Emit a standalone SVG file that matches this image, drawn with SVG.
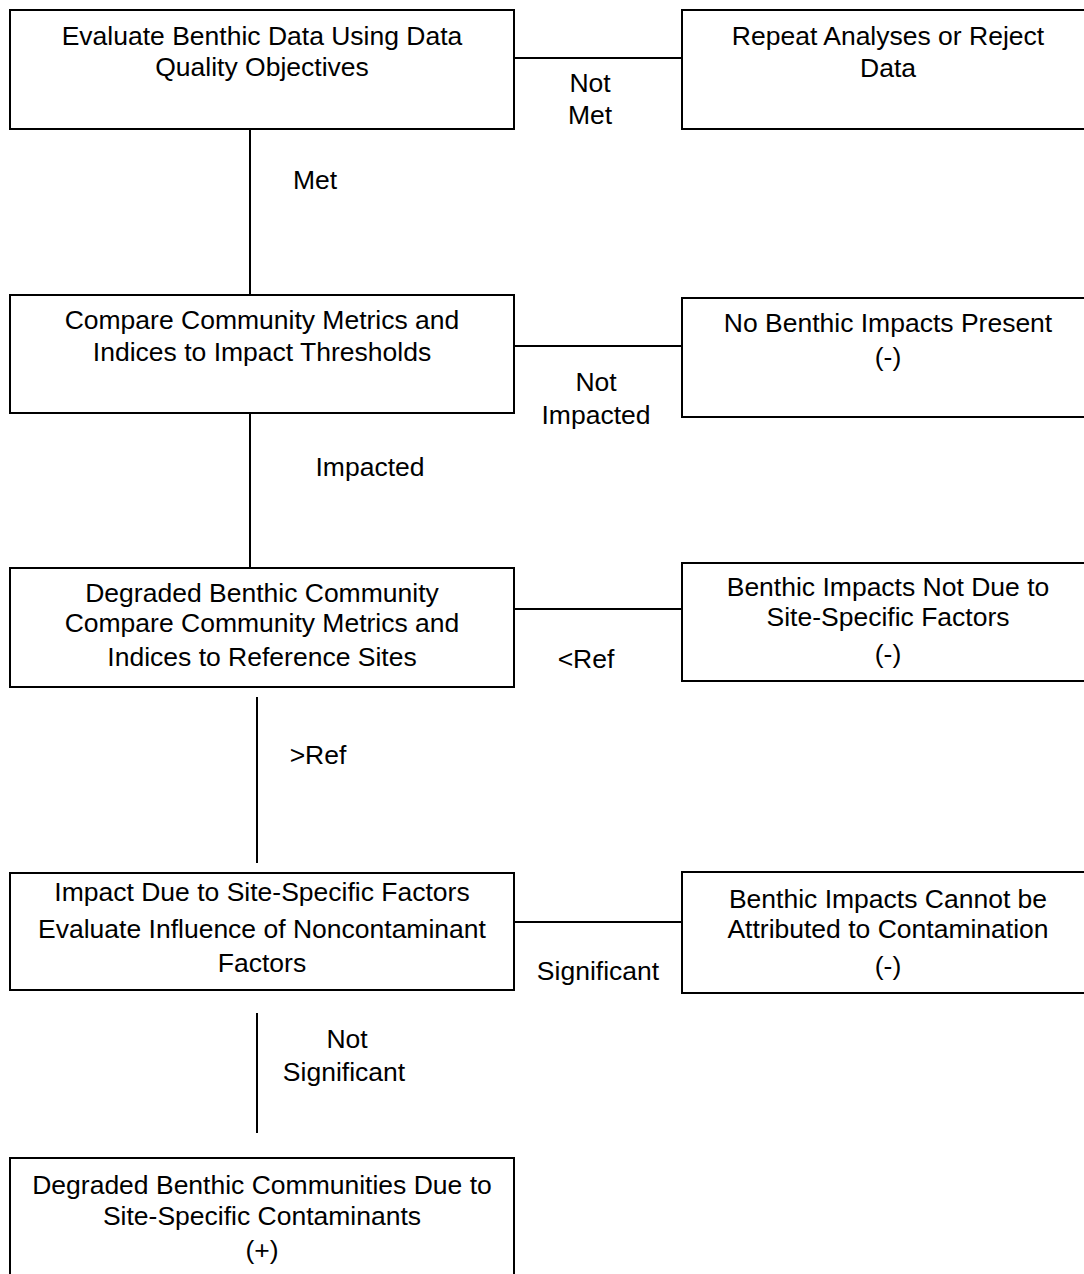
<svg xmlns="http://www.w3.org/2000/svg" width="1084" height="1274" viewBox="0 0 1084 1274">
<style>
.box{fill:#fff;stroke:#000;stroke-width:2}
.c{fill:none;stroke:#000;stroke-width:2}
text{font-family:"Liberation Sans",Arial,sans-serif;font-size:26.5px;fill:#000;text-anchor:middle}
</style>
<rect width="1084" height="1274" fill="#fff"/>
<g id="connectors">
<line class="c" x1="514" y1="58" x2="682" y2="58"/>
<line class="c" x1="250" y1="129" x2="250" y2="295"/>
<line class="c" x1="514" y1="346" x2="682" y2="346"/>
<line class="c" x1="250" y1="413" x2="250" y2="568"/>
<line class="c" x1="514" y1="609" x2="682" y2="609"/>
<line class="c" x1="257" y1="697" x2="257" y2="863"/>
<line class="c" x1="514" y1="922" x2="682" y2="922"/>
<line class="c" x1="257" y1="1013" x2="257" y2="1133"/>
<text x="590" y="92">Not</text>
<text x="590" y="124">Met</text>
<text x="315" y="189">Met</text>
<text x="596" y="391">Not</text>
<text x="596" y="424">Impacted</text>
<text x="370" y="476">Impacted</text>
<text x="586" y="668">&lt;Ref</text>
<text x="318" y="764">&gt;Ref</text>
<text x="598" y="980">Significant</text>
<text x="347" y="1048">Not</text>
<text x="344" y="1081">Significant</text>
</g>
<g id="n1"><rect class="box" x="10" y="10" width="504" height="119"/>
<text x="262" y="45">Evaluate Benthic Data Using Data</text>
<text x="262" y="76">Quality Objectives</text></g>
<g id="n2"><rect class="box" x="682" y="10" width="412" height="119"/>
<text x="888" y="45">Repeat Analyses or Reject</text>
<text x="888" y="77">Data</text></g>
<g id="n3"><rect class="box" x="10" y="295" width="504" height="118"/>
<text x="262" y="329">Compare Community Metrics and</text>
<text x="262" y="361">Indices to Impact Thresholds</text></g>
<g id="n4"><rect class="box" x="682" y="298" width="412" height="119"/>
<text x="888" y="332">No Benthic Impacts Present</text>
<text x="888" y="366">(-)</text></g>
<g id="n5"><rect class="box" x="10" y="568" width="504" height="119"/>
<text x="262" y="602">Degraded Benthic Community</text>
<text x="262" y="632">Compare Community Metrics and</text>
<text x="262" y="666">Indices to Reference Sites</text></g>
<g id="n6"><rect class="box" x="682" y="563" width="412" height="118"/>
<text x="888" y="596">Benthic Impacts Not Due to</text>
<text x="888" y="626">Site-Specific Factors</text>
<text x="888" y="663">(-)</text></g>
<g id="n7"><rect class="box" x="10" y="873" width="504" height="117"/>
<text x="262" y="901">Impact Due to Site-Specific Factors</text>
<text x="262" y="938">Evaluate Influence of Noncontaminant</text>
<text x="262" y="972">Factors</text></g>
<g id="n8"><rect class="box" x="682" y="872" width="412" height="121"/>
<text x="888" y="908">Benthic Impacts Cannot be</text>
<text x="888" y="938">Attributed to Contamination</text>
<text x="888" y="975">(-)</text></g>
<g id="n9"><rect class="box" x="10" y="1158" width="504" height="130"/>
<text x="262" y="1194">Degraded Benthic Communities Due to</text>
<text x="262" y="1225">Site-Specific Contaminants</text>
<text x="262" y="1259">(+)</text></g>
</svg>
